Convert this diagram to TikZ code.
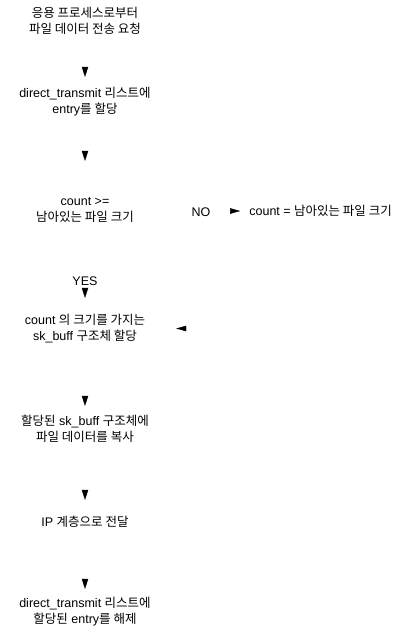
\documentclass[tikz,border=0pt]{standalone}
\usepackage{fontspec}
\setmainfont{Liberation Sans}
\newfontfamily\kr{Noto Sans CJK KR}
\usetikzlibrary{arrows.meta}
\begin{document}
\begin{tikzpicture}[x=1pt,y=-1pt,
  lbl/.style={align=center,font=\fontsize{12.5}{16}\selectfont,inner sep=0pt},
  flow/.style={draw=white,-{Triangle[black,width=6.5pt,length=10pt]}},
  flowh/.style={draw=white,-{Triangle[black,width=5.5pt,length=10pt]}},
]
\useasboundingbox[fill=white] (0,0) rectangle (401,633);
% text nodes
\node[lbl] (t1) at (85,21) {{\kr 응용 프로세스로부터}\\{\kr 파일 데이터 전송 요청}};
\node[lbl,minimum height=49pt] (t2) at (85,101.5) {direct\_transmit {\kr 리스트에}\\entry{\kr 를 할당}};
\node[lbl,minimum height=98pt] (d) at (85,210) {count >=\\{\kr 남아있는 파일 크기}};
\node[lbl,anchor=east] (n) at (392,211) {count = {\kr 남아있는 파일 크기}};
\node[lbl,minimum height=61pt,minimum width=182pt] (t4) at (85,328.5) {count {\kr 의 크기를 가지는}\\sk\_buff {\kr 구조체 할당}};
\node[lbl,minimum height=46pt] (t5) at (85,429) {{\kr 할당된} sk\_buff {\kr 구조체에}\\{\kr 파일 데이터를 복사}};
\node[lbl,minimum height=44pt] (t6) at (85,522) {IP {\kr 계층으로 전달}};
\node[lbl,minimum height=46pt] (t7) at (85,612) {direct\_transmit {\kr 리스트에}\\{\kr 할당된} entry{\kr 를 해제}};
% connectors
\draw[flow] (t1) -- (t2);
\draw[flow] (t2) -- (d);
\draw[flowh,shorten >=9pt] (d.east |- n.west) -- (n.west);
\draw[flow] (d) -- (t4);
\draw[flowh] (n.south) |- (t4.east);
\draw[flow] (t4) -- (t5);
\draw[flow] (t5) -- (t6);
\draw[flow] (t6) -- (t7);
% branch labels
\node[lbl] (no) at (201,212) {NO};
\node[lbl] (yes) at (85,281) {YES};
\end{tikzpicture}
\end{document}
